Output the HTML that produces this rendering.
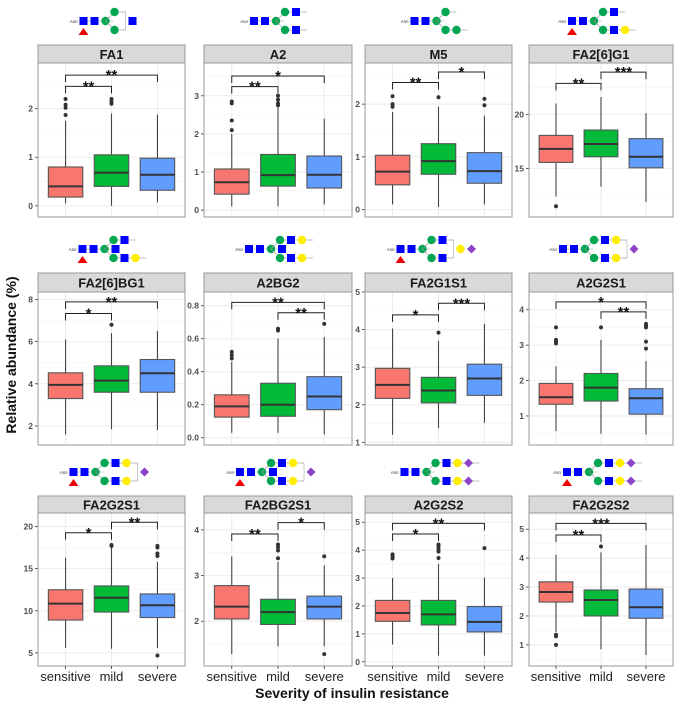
<!DOCTYPE html>
<html><head><meta charset="utf-8">
<style>
html,body{margin:0;padding:0;background:#fff;}
svg{display:block;font-family:"Liberation Sans",sans-serif;}
</style></head>
<body>
<svg id="chart" width="678" height="702" viewBox="0 0 678 702" xmlns="http://www.w3.org/2000/svg">
<text x="0" y="0" transform="translate(16,355) rotate(-90)" text-anchor="middle" font-size="14" font-weight="bold" fill="#111">Relative abundance (%)</text>
<text x="352" y="698" text-anchor="middle" font-size="14" font-weight="bold" fill="#111">Severity of insulin resistance</text>
</svg>
<script>
const categories = ['sensitive','mild','severe'];
const panelNames = ['FA1','A2','M5','FA2[6]G1','FA2[6]BG1','A2BG2','FA2G1S1','A2G2S1','FA2G2S1','FA2BG2S1','A2G2S2','FA2G2S2'];
const yLimits = [[-0.23,2.94],[-0.18,3.86],[-0.14,2.78],[10.5,24.75],[1.1,8.35],[-0.044,0.883],[0.93,5.0],[0.18,4.5],[3.45,21.6],[1.02,4.37],[-0.15,5.33],[0.27,5.56]];
const tickSets = [[0,1,2],[0,1,2,3],[0,1,2],[15,20],[2,4,6,8],[0.0,0.2,0.4,0.6,0.8],[1,2,3,4,5],[1,2,3,4],[5,10,15,20],[2,3,4],[0,1,2,3,4,5],[1,2,3,4,5]];
const tickLabels = [['0','1','2'],['0','1','2','3'],['0','1','2'],['15','20'],['2','4','6','8'],['0.0','0.2','0.4','0.6','0.8'],['1','2','3','4','5'],['1','2','3','4'],['5','10','15','20'],['2','3','4'],['0','1','2','3','4','5'],['1','2','3','4','5']];
const lows = [[0.05,0,0.07],[0.1,0.1,0.15],[0.1,0.05,0.1],[12.4,13.3,11.9],[1.6,1.85,1.8],[0.03,0.03,0.02],[1.2,1.38,1.52],[0.57,0.5,0.48],[5.6,5.5,5.6],[1.28,1.45,1.45],[0.62,0.22,0.22],[1.45,0.85,0.65]];
const q1s = [[0.18,0.4,0.32],[0.42,0.63,0.58],[0.47,0.67,0.5],[15.55,16.07,15.05],[3.3,3.6,3.6],[0.125,0.13,0.17],[2.17,2.05,2.25],[1.33,1.42,1.05],[8.9,9.85,9.2],[2.05,1.93,2.05],[1.45,1.32,1.07],[2.48,2.0,1.92]];
const medians = [[0.4,0.68,0.64],[0.73,0.92,0.93],[0.72,0.92,0.73],[16.8,17.25,16.07],[3.95,4.15,4.5],[0.19,0.2,0.25],[2.53,2.38,2.7],[1.53,1.8,1.5],[10.85,11.55,10.65],[2.32,2.2,2.32],[1.75,1.7,1.43],[2.83,2.55,2.3]];
const q3s = [[0.8,1.05,0.98],[1.08,1.46,1.42],[1.03,1.25,1.08],[18.05,18.55,17.75],[4.52,4.85,5.15],[0.26,0.33,0.37],[2.97,2.73,3.08],[1.92,2.2,1.77],[12.5,12.95,12.0],[2.78,2.48,2.55],[2.2,2.2,1.98],[3.18,2.9,2.93]];
const highs = [[1.75,1.9,1.88],[2.0,2.7,2.4],[1.85,1.95,1.78],[21.0,21.6,20.1],[6.1,6.4,6.5],[0.46,0.6,0.61],[4.03,3.7,4.15],[2.4,3.15,2.55],[16.3,17.5,15.8],[3.42,3.3,3.22],[3.0,3.5,3.02],[4.12,4.2,4.45]];
const outliers = [
 [[1.87,2.02,2.08,2.2],[2.1,2.15,2.2],[]],
 [[2.1,2.35,2.8,2.85],[2.75,2.8,2.9,3.0],[]],
 [[1.95,2.0,2.15],[2.13],[1.98,2.1]],
 [[11.5],[],[]],
 [[],[6.8],[]],
 [[0.48,0.5,0.52],[0.65,0.66],[0.69]],
 [[],[3.92],[]],
 [[3.05,3.1,3.15,3.5],[3.5],[2.9,3.1,3.5,3.55,3.6]],
 [[],[17.7,17.8],[4.7,16.5,16.8,17.5,17.7]],
 [[],[3.38,3.55,3.62,3.68],[1.28,3.42]],
 [[3.7,3.78,3.85],[3.72,3.95,4.05,4.15,4.2],[4.07]],
 [[1.0,1.3,1.35],[4.4],[]]
];
// brackets: [fromCat, toCat, level, label]
const brackets = [
 [[0,1,2.46,'**'],[0,2,2.69,'**']],
 [[0,1,3.24,'**'],[0,2,3.52,'*']],
 [[0,1,2.41,'**'],[1,2,2.61,'*']],
 [[0,1,22.87,'**'],[1,2,23.9,'***']],
 [[0,1,7.33,'*'],[0,2,7.88,'**']],
 [[0,2,0.82,'**'],[1,2,0.757,'**']],
 [[0,1,4.39,'*'],[1,2,4.7,'***']],
 [[0,2,4.22,'*'],[1,2,3.94,'**']],
 [[0,1,19.25,'*'],[1,2,20.5,'**']],
 [[0,1,3.91,'**'],[1,2,4.16,'*']],
 [[0,1,4.58,'*'],[0,2,4.96,'**']],
 [[0,1,4.8,'**'],[0,2,5.2,'***']]
];
const glycans = [
 {fuc:1,bis:0,arms:[['G'],['G']],fl:['B']},
 {fuc:0,bis:0,arms:[['G','B'],['G','B']],fl:[]},
 {fuc:0,bis:0,arms:[['G'],['G','G']],fl:[]},
 {fuc:1,bis:0,arms:[['G','B'],['G','B','Y']],fl:[]},
 {fuc:1,bis:1,arms:[['G','B'],['G','B','Y']],fl:[]},
 {fuc:0,bis:1,arms:[['G','B','Y'],['G','B','Y']],fl:[]},
 {fuc:1,bis:0,arms:[['G','B'],['G','B']],fl:['Y','S']},
 {fuc:0,bis:0,arms:[['G','B','Y'],['G','B','Y']],fl:['S']},
 {fuc:1,bis:0,arms:[['G','B','Y'],['G','B','Y']],fl:['S']},
 {fuc:1,bis:1,arms:[['G','B','Y'],['G','B','Y']],fl:['S']},
 {fuc:0,bis:0,arms:[['G','B','Y','S'],['G','B','Y','S']],fl:[]},
 {fuc:1,bis:0,arms:[['G','B','Y','S'],['G','B','Y','S']],fl:[]}
];
const fills = ['#F8766D','#00BA38','#619CFF'];
const colX = [38,204,365,529], colW = [147,148,147,144];
const stripTop = [45,273,496], stripBot = [63,292,513], plotBot = [217,445,666];
const NS = 'http://www.w3.org/2000/svg';
const svg = document.getElementById('chart');
function mk(tag, attrs, parent, txt){
  const e = document.createElementNS(NS, tag);
  for (const k in attrs) e.setAttribute(k, attrs[k]);
  if (txt !== undefined) e.textContent = txt;
  (parent||svg).appendChild(e);
  return e;
}
function shape(g, t, cx, cy){
  let e;
  if (t==='B') e = mk('rect',{x:cx-4,y:cy-4,width:8,height:8,fill:'#0000FF'},g);
  else if (t==='G') e = mk('circle',{cx:cx,cy:cy,r:4.2,fill:'#00A651'},g);
  else if (t==='Y') e = mk('circle',{cx:cx,cy:cy,r:4.2,fill:'#FFEE00'},g);
  else if (t==='S') e = mk('polygon',{points:`${cx},${cy-4.5} ${cx+4.5},${cy} ${cx},${cy+4.5} ${cx-4.5},${cy}`,fill:'#8E44C8'},g);
  
  
}
for (let p = 0; p < panelNames.length; p++){
  const r = Math.floor(p/4), c = p % 4;
  const x0 = colX[c], w = colW[c], top = stripBot[r], bot = plotBot[r];
  const [ymin, ymax] = yLimits[p];
  const ys = v => bot - (v - ymin)/(ymax - ymin)*(bot - top);
  const unit = w/3.2;
  const xs = i => x0 + unit*(0.6 + i);
  const g = mk('g',{});
  
  
  mk('rect',{x:x0,y:top,width:w,height:bot-top,fill:'#fff'},g);
  const tk = tickSets[p];
  const step = tk.length>1 ? tk[1]-tk[0] : 1;
  for (let v = tk[0]-step/2; v <= ymax; v += step){
    if (v < ymin) continue;
    mk('line',{x1:x0,x2:x0+w,y1:ys(v),y2:ys(v),stroke:'#f4f4f4','stroke-width':0.6},g);
  }
  for (let i=0;i<tk.length;i++){
    const y = ys(tk[i]);
    mk('line',{x1:x0,x2:x0+w,y1:y,y2:y,stroke:'#ebebeb','stroke-width':1},g);
    mk('line',{x1:x0-3,x2:x0,y1:y,y2:y,stroke:'#333','stroke-width':0.8},g);
    const tl = mk('text',{x:x0-5,y:y+3,'text-anchor':'end','font-size':8.5,'font-weight':'bold',fill:'#4d4d4d'},g,tickLabels[p][i]);
    
    
  }
  for (let i=0;i<3;i++) mk('line',{x1:xs(i),x2:xs(i),y1:top,y2:bot,stroke:'#ebebeb','stroke-width':1},g);
  const bw = unit*0.75;
  for (let i=0;i<3;i++){
    const cx = xs(i);
    const bg = mk('g',{},g);
    
    
    mk('line',{x1:cx,x2:cx,y1:ys(lows[p][i]),y2:ys(highs[p][i]),stroke:'#444','stroke-width':1.1},bg);
    mk('rect',{x:cx-bw/2,y:ys(q3s[p][i]),width:bw,height:ys(q1s[p][i])-ys(q3s[p][i]),fill:fills[i],stroke:'#555','stroke-width':1.1},bg);
    mk('line',{x1:cx-bw/2,x2:cx+bw/2,y1:ys(medians[p][i]),y2:ys(medians[p][i]),stroke:'#333','stroke-width':2},bg);
    for (const o of outliers[p][i]){
      const pt = mk('circle',{cx:cx,cy:ys(o),r:2,fill:'#333'},bg);
      
      
    }
  }
  for (const b of brackets[p]){
    const xa = xs(b[0]), xb = xs(b[1]), y = ys(b[2]);
    const bk = mk('g',{},g);
    
    
    mk('path',{d:`M${xa},${y+7} V${y} H${xb} V${y+7}`,fill:'none',stroke:'#222','stroke-width':1},bk);
    mk('text',{x:(xa+xb)/2,y:y+5,'text-anchor':'middle','font-size':15,'font-weight':'bold',fill:'#111'},bk,b[3]);
  }
  mk('rect',{x:x0,y:top,width:w,height:bot-top,fill:'none',stroke:'#999','stroke-width':1},g);
  const st = stripTop[r];
  const s = mk('rect',{x:x0,y:st,width:w,height:top-st,fill:'#d9d9d9',stroke:'#999','stroke-width':1},g);
  
  
  const stt = mk('text',{x:x0+w/2,y:st+(top-st)/2+5,'text-anchor':'middle','font-size':13,'font-weight':'bold',fill:'#1a1a1a'},g,panelNames[p]);
  
  
  if (r===2){
    for (let i=0;i<3;i++){
      mk('line',{x1:xs(i),x2:xs(i),y1:bot,y2:bot+3,stroke:'#333','stroke-width':0.8},g);
      const xl = mk('text',{x:xs(i),y:bot+15,'text-anchor':'middle','font-size':13,fill:'#222'},g,categories[i]);
      
      
    }
  }
  const gl = glycans[p];
  const ic = mk('g',{},g);
  
  
  const maxArm = Math.max(gl.arms[0].length, gl.arms[1].length);
  const totalW = 40 + maxArm*10 + (gl.fl.length? 8+gl.fl.length*10:0);
  const gx = x0 + w/2 - totalW/2 + 6;
  const cy = st - 24;
  mk('text',{x:gx-6,y:cy+2,'text-anchor':'end','font-size':4.5,fill:'#333'},ic,'Asn');
  mk('line',{x1:gx-5,x2:gx+30,y1:cy,y2:cy,stroke:'#999','stroke-width':0.6},ic);
  shape(ic,'B',gx,cy); shape(ic,'B',gx+11,cy);
  if (gl.fuc){
    const f = mk('polygon',{points:`${gx},${cy+7} ${gx+5},${cy+14} ${gx-5},${cy+14}`,fill:'#EE0000'},ic);
    
    
  }
  shape(ic,'G',gx+22,cy);
  if (gl.bis) shape(ic,'B',gx+33,cy);
  for (let a=0;a<2;a++){
    const ay = cy + (a===0?-9:9);
    mk('line',{x1:gx+22,y1:cy,x2:gx+31,y2:ay,stroke:'#999','stroke-width':0.6},ic);
    gl.arms[a].forEach((t,k)=>{
      mk('line',{x1:gx+31+k*11,x2:gx+42+k*11,y1:ay,y2:ay,stroke:'#999','stroke-width':0.6},ic);
    });
    gl.arms[a].forEach((t,k)=>shape(ic,t,gx+31+k*11,ay));
  }
  if (gl.fl.length){
    const bx = gx+31+maxArm*11-3;
    mk('path',{d:`M${bx},${cy-9} H${bx+3} V${cy+9} H${bx}`,fill:'none',stroke:'#aaa','stroke-width':0.6},ic);
    gl.fl.forEach((t,k)=>shape(ic,t,bx+10+k*11,cy));
  }
}
</script>
</body></html>
